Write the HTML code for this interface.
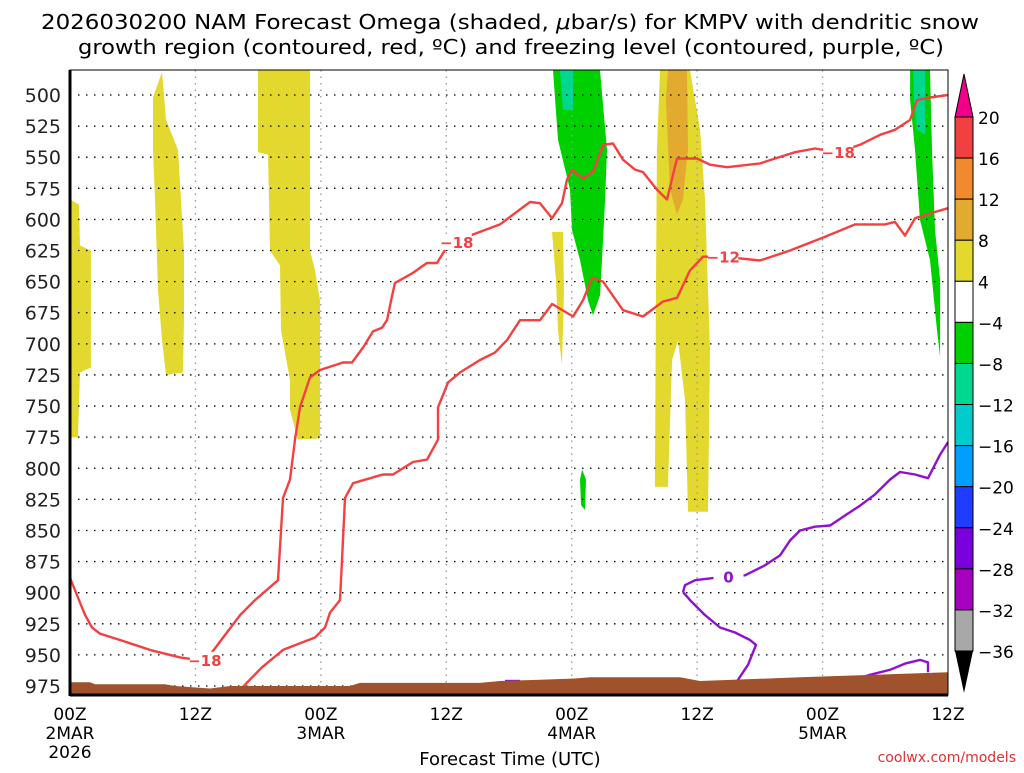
<!DOCTYPE html>
<html><head><meta charset="utf-8"><style>
body{margin:0;background:#fff;}
svg text{font-family:"DejaVu Sans","Liberation Sans",sans-serif;}
</style></head><body>
<svg id="chart" width="1024" height="768" xmlns="http://www.w3.org/2000/svg">
<text x="510" y="29" font-size="20" text-anchor="middle" textLength="938" lengthAdjust="spacingAndGlyphs">2026030200 NAM Forecast Omega (shaded, <tspan font-style="italic">μ</tspan>bar/s) for KMPV with dendritic snow</text>
<text x="511" y="54" font-size="20" text-anchor="middle" textLength="866" lengthAdjust="spacingAndGlyphs">growth region (contoured, red, ºC) and freezing level (contoured, purple, ºC)</text>
<g id="plot"></g>
<g id="axes"></g>
<g id="cbar"></g>
<text x="510" y="765" font-size="18" text-anchor="middle">Forecast Time (UTC)</text>
<text x="1016" y="762" font-size="14" text-anchor="end" fill="#e03030">coolwx.com/models</text>
</svg>
<script>
// ---- data (hour since 00Z 2MAR, pressure hPa) ----
const pressureTicks=[500,525,550,575,600,625,650,675,700,725,750,775,800,825,850,875,900,925,950,975];
const timeTicks=[0,12,24,36,48,60,72,84];
const timeLabels=["00Z","12Z","00Z","12Z","00Z","12Z","00Z","12Z"];
const dateLabels=["2MAR","","3MAR","","4MAR","","5MAR",""];
const cbarLevels=[20,16,12,8,4,-4,-8,-12,-16,-20,-24,-28,-32,-36];
const cbarColors=["#f24040","#f08a2c","#e3aa30","#e3d92e","#ffffff","#00d000","#00d890","#00cccc","#009fff","#1f3dff","#7a00dd","#a800c0","#a8a8a8"];
const yellowLeft=[[0,584],[0.86,588],[0.96,621],[2,625],[2,719],[0.96,723],[0.77,775],[0,775]];
const yellowA=[[7.94,502],[8.8,481.5],[9.18,520],[10.33,544],[10.91,625],[10.91,681],[10.81,723],[9.18,725],[8.8,697],[8.42,657],[8.13,584],[7.94,544]];
const yellowB=[[17.99,480],[17.99,546],[18.94,548],[19.13,625],[20.09,637],[20.19,689],[21.05,729],[21.05,753],[21.81,777],[23.92,776],[23.92,665],[23.44,641],[22.96,625],[22.96,480]];
const yellowC=[[46.11,610],[47.17,610],[47.26,657],[47.07,717],[46.69,689],[46.5,649]];
const yellowD=[[56.45,480],[59.32,480],[60.28,528],[60.75,584],[61.23,705],[61.04,835],[59.13,835],[58.84,745],[58.17,697],[57.6,713],[57.2,815],[55.96,815],[56.05,665],[56.15,544]];
const goldD=[[57.2,480],[59.03,480],[59.13,544],[58.65,584],[58.07,596],[57.4,576],[57.01,504]];
const greenA=[[46.21,480],[46.69,536],[47.84,576],[48.03,608.5],[48.79,632.6],[49.56,665],[50.04,677],[50.71,661],[50.9,632.6],[51.19,584],[51.38,544],[50.71,480]];
const tealA=[[46.88,480],[48.12,480],[48.12,512],[47.17,512]];
const greenBlip=[[48.99,801],[49.37,809],[49.27,833.5],[48.89,829.5],[48.79,809]];
const greenB=[[80.37,480],[82.28,480],[82.47,544],[82.76,608.5],[83.24,648.7],[83.24,710.6],[82.95,689],[82.28,632.6],[81.32,600.5],[80.84,544],[80.37,504]];
const tealB=[[80.65,480],[81.8,480],[81.8,532],[81.03,528],[80.75,504]];
const cold18Line=[[0,888],[0.77,904],[1.44,918],[2.1,928],[2.87,933],[4.78,938],[7.65,946],[10.52,952],[12.25,954],[13.4,950],[14.83,934],[16.27,918],[17.7,906],[19.9,890],[20.38,824],[21.05,809],[21.53,777],[22.0,751],[22.96,727],[23.92,721],[26.12,715],[26.98,715],[28.03,703],[28.99,690],[29.85,687],[30.33,681],[30.8,662],[31.09,651],[32.81,643],[34.15,635],[35.11,635],[36.07,622],[38.27,613],[41.14,604],[44.01,586],[44.97,587],[46.12,599],[47.07,587],[47.55,568],[48.03,560],[49.08,567],[50.04,562],[50.99,540],[51.95,539],[52.91,552],[54.06,560],[54.82,562],[56.16,576],[57.12,584],[58.07,551],[59.99,551],[61.23,556],[62.86,558],[66.02,555],[67.45,551],[69.37,546],[71.28,543],[73.48,546],[75.58,540],[77.5,532],[78.93,528],[80.37,520],[81.04,504],[82.28,502],[84,500]];
const warm12Line=[[16.27,978],[18.37,960],[20.38,946],[23.44,936],[24.4,928],[24.87,916],[25.83,906],[26.02,874],[26.31,824],[27.08,812],[29.95,805],[30.9,805],[32.82,795],[34.16,793],[35.21,777],[35.21,751],[36.17,731],[37.31,723],[39.23,713],[40.66,707],[41.81,697],[43.05,681],[44.97,681],[46.12,668],[48.13,678],[49.08,665],[49.94,647],[50.99,650],[52.91,673],[54.82,678],[56.74,666],[58.08,663],[59.32,641],[60.56,630],[62.48,630],[66.02,633],[68.89,625],[72.24,614],[75.11,604],[77.98,604],[78.93,602],[79.89,613],[80.85,599],[82.76,594],[84,591]];
const freezeLine=[[58.65,899.5],[58.84,894],[59.8,890],[61.71,888],[64.58,886],[66.49,878],[67.93,870],[68.89,858],[69.84,850],[71.28,847],[72.72,846],[74.15,838],[75.59,830],[77.02,821],[78.46,809],[79.41,803],[80.85,805],[82.09,808],[83.24,789],[84,779]];
const freezeLow=[[58.65,899.5],[59.32,906],[60.75,918],[62.19,928],[63.62,932],[65.06,938],[65.63,942],[64.87,958],[63.91,970],[63.62,975]];
const freezeBR=[[75.11,970],[76.54,966],[78.46,962],[79.89,957],[81.32,954],[82.09,956],[82.09,964]];
const freezeBit=[[41.62,971],[43.06,971]];
const terrain=[[0,972],[1.91,972],[2.39,973.6],[9.09,973.6],[10.05,975],[13.4,977],[15.3,975],[16.27,975],[26.79,975],[27.74,972.5],[39.22,972.5],[41.14,971],[44.97,970],[48.32,969],[49.75,968],[58.36,968],[60.27,971],[69.84,968],[84,964]];
const labelPos=[[12.9,954,"−18"],[37.0,618,"−18"],[73.5,546,"−18"],[62.5,630,"−12"]];

const X0=70,X1=948,Y500=95,Y975=686,YT=70,YB=695;
const xs=h=>X0+h*(X1-X0)/84;
const ys=p=>Y500+(p-500)*(Y975-Y500)/475;
const NS="http://www.w3.org/2000/svg";
function mk(tag,parent){const e=document.createElementNS(NS,tag);parent.appendChild(e);return e;}
const plot=document.getElementById('plot'),axes=document.getElementById('axes'),cbar=document.getElementById('cbar');
const clip=mk('clipPath',plot);clip.setAttribute('id','pc');
const cr=mk('rect',clip);cr.setAttribute('x',X0);cr.setAttribute('y',YT);cr.setAttribute('width',X1-X0);cr.setAttribute('height',YB-YT);
const pg=mk('g',plot);pg.setAttribute('clip-path','url(#pc)');
function poly(arr,fill,name){const e=mk('polygon',pg);e.setAttribute('points',arr.map(d=>xs(d[0]).toFixed(1)+','+ys(d[1]).toFixed(1)).join(' '));e.setAttribute('fill',fill);

return e;}
function line(arr,col,name){const e=mk('polyline',pg);e.setAttribute('points',arr.map(d=>xs(d[0]).toFixed(1)+','+ys(d[1]).toFixed(1)).join(' '));e.setAttribute('fill','none');e.setAttribute('stroke',col);e.setAttribute('stroke-width','2.4');e.setAttribute('stroke-linejoin','round');

return e;}
poly(yellowLeft,cbarColors[3],'omega-shade-yellow-left');
poly(yellowA,cbarColors[3],'omega-shade-yellow-a');
poly(yellowB,cbarColors[3],'omega-shade-yellow-b');
poly(yellowC,cbarColors[3],'omega-shade-yellow-c');
poly(yellowD,cbarColors[3],'omega-shade-yellow-d');
poly(goldD,cbarColors[2],'omega-shade-gold');
poly(greenA,cbarColors[5],'omega-shade-green-a');
poly(tealA,cbarColors[6],'omega-shade-teal-a');
poly(greenBlip,cbarColors[5],'omega-shade-green-blip');
poly(greenB,cbarColors[5],'omega-shade-green-b');
poly(tealB,cbarColors[6],'omega-shade-teal-b');
pressureTicks.forEach(p=>{const l=mk('line',pg);l.setAttribute('x1',X0);l.setAttribute('x2',X1);l.setAttribute('y1',ys(p));l.setAttribute('y2',ys(p));l.setAttribute('stroke','#000');l.setAttribute('stroke-width','1.3');l.setAttribute('stroke-dasharray','1.5 6.5');

});
timeTicks.slice(1,-1).forEach(h=>{const l=mk('line',pg);l.setAttribute('x1',xs(h));l.setAttribute('x2',xs(h));l.setAttribute('y1',YT);l.setAttribute('y2',YB);l.setAttribute('stroke','#999');l.setAttribute('stroke-width','1.3');l.setAttribute('stroke-dasharray','1.5 5');

});
line(cold18Line,'#f44040','contour-minus18');
line(warm12Line,'#f44040','contour-minus12');
line(freezeLine,'#9010d0','freezing-level-contour');
line(freezeLow,'#9010d0','freezing-level-contour-low');
line(freezeBR,'#9010d0','freezing-level-contour-right');
line(freezeBit,'#9010d0','freezing-level-contour-bit');
poly(terrain.concat([[84,1000],[0,1000]]),'#a0522d','terrain');
function clabel(h,p,t,col,name){const bg=mk('rect',pg);bg.setAttribute('x',xs(h)-15);bg.setAttribute('y',ys(p)-8);bg.setAttribute('width',30);bg.setAttribute('height',16);bg.setAttribute('fill','#fff');
const e=mk('text',pg);e.setAttribute('x',xs(h));e.setAttribute('y',ys(p)+6);e.setAttribute('font-size','15');e.setAttribute('font-weight','bold');e.setAttribute('text-anchor','middle');e.setAttribute('fill',col);e.textContent=t;

}
labelPos.forEach(d=>clabel(d[0],d[1],d[2],'#f44040','contour-label-red'));
clabel(63.0,887,'0','#9010d0','contour-label-zero');
const fr=mk('rect',axes);fr.setAttribute('x',X0);fr.setAttribute('y',YT);fr.setAttribute('width',X1-X0);fr.setAttribute('height',YB-YT);fr.setAttribute('fill','none');fr.setAttribute('stroke','#000');fr.setAttribute('stroke-width','1');


const la=mk('line',axes);la.setAttribute('x1',X0);la.setAttribute('x2',X0);la.setAttribute('y1',YT);la.setAttribute('y2',YB+1);la.setAttribute('stroke','#000');la.setAttribute('stroke-width','3');


const ba=mk('line',axes);ba.setAttribute('x1',X0);ba.setAttribute('x2',X1);ba.setAttribute('y1',YB);ba.setAttribute('y2',YB);ba.setAttribute('stroke','#000');ba.setAttribute('stroke-width','3');


pressureTicks.forEach(p=>{const t=mk('text',axes);t.setAttribute('x',61);t.setAttribute('y',ys(p)+7);t.setAttribute('font-size','19');t.setAttribute('text-anchor','end');t.setAttribute('fill','#222');t.textContent=p;

});
timeTicks.forEach((h,i)=>{const t=mk('text',axes);t.setAttribute('x',xs(h));t.setAttribute('y',720);t.setAttribute('font-size','17');t.setAttribute('text-anchor','middle');t.textContent=timeLabels[i];


if(dateLabels[i]){const d=mk('text',axes);d.setAttribute('x',xs(h));d.setAttribute('y',739);d.setAttribute('font-size','17');d.setAttribute('text-anchor','middle');d.textContent=dateLabels[i];

}});
const yr=mk('text',axes);yr.setAttribute('x',xs(0));yr.setAttribute('y',758);yr.setAttribute('font-size','17');yr.setAttribute('text-anchor','middle');yr.textContent='2026';


const CX=955,CW=18,CT=117,CB=651,step=(CB-CT)/(cbarLevels.length-1);
cbarColors.forEach((c,i)=>{const r=mk('rect',cbar);r.setAttribute('x',CX);r.setAttribute('y',CT+i*step);r.setAttribute('width',CW);r.setAttribute('height',step);r.setAttribute('fill',c);r.setAttribute('stroke','#000');r.setAttribute('stroke-width','1');

});
const tu=mk('polygon',cbar);tu.setAttribute('points',`${CX},${CT} ${CX+CW},${CT} ${CX+CW/2},${CT-43}`);tu.setAttribute('fill','#f0008a');tu.setAttribute('stroke','#000');


const td=mk('polygon',cbar);td.setAttribute('points',`${CX},${CB} ${CX+CW},${CB} ${CX+CW/2},${CB+42}`);td.setAttribute('fill','#000');


cbarLevels.forEach((v,i)=>{const t=mk('text',cbar);t.setAttribute('x',978);t.setAttribute('y',CT+i*step+7);t.setAttribute('font-size','17');t.textContent=v<0?'−'+(-v):v;

});
</script>
</body></html>
